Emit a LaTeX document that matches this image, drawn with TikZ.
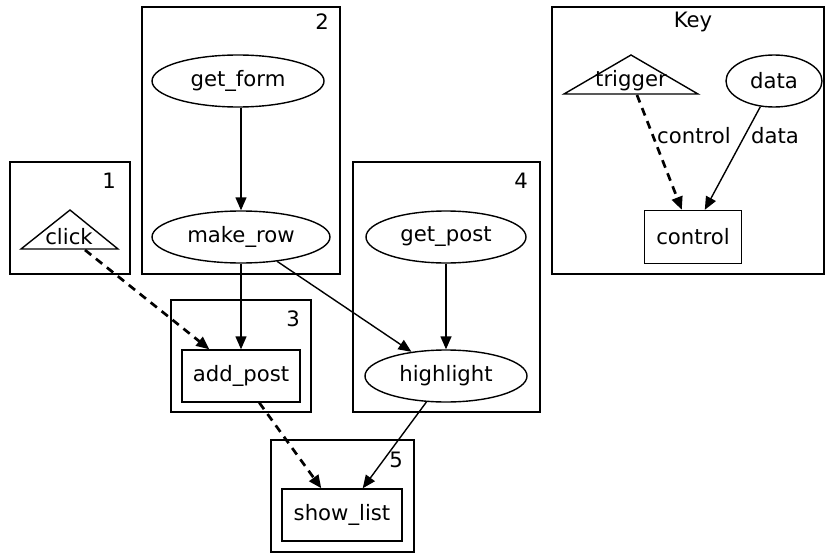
\documentclass[tikz,border=0pt]{standalone}
\usepackage{fontspec}
\setmainfont{DejaVu Sans}
\usetikzlibrary{shapes.geometric,arrows.meta}
\begin{document}
\begin{tikzpicture}[x=1pt,y=-1pt,
  every node/.style={font=\fontsize{21.2}{25}\selectfont, inner sep=0pt},
  cluster/.style={draw, line width=1.4pt},
  ell/.style={draw, ellipse, line width=1.4pt},
  boxn/.style={draw, rectangle, line width=1.4pt},
  tri/.style={line width=1.4pt},
  data/.style={line width=1.4pt, -{Triangle[length=13pt,width=11pt]}},
  ctrl/.style={line width=2.7pt, dash pattern=on 8pt off 6pt, -{Triangle[length=13pt,width=11pt]}},
  clabel/.style={anchor=center}]
\useasboundingbox (0,0) rectangle (825,554);
% clusters
\draw[cluster] (10,162) rectangle (130,274);
\node[clabel] (l1) at (109,181) {1};
\draw[cluster] (142,7) rectangle (340,274);
\node[clabel] (l2) at (322,22) {2};
\draw[cluster] (171,300) rectangle (311,412);
\node[clabel] (l3) at (293,319) {3};
\draw[cluster] (353,162) rectangle (540,412);
\node[clabel] (l4) at (521,181) {4};
\draw[cluster] (271,440) rectangle (414,552);
\node[clabel] (l5) at (396,460) {5};
\draw[cluster] (552,7) rectangle (824,274);
\node[clabel] (lk) at (693,22) {Key};
% triangles
\draw[tri] (21,249) -- (70,210) -- (118,249) -- cycle;
\node (click) at (69,237) {click};
\coordinate (clickout) at (85,250);
\draw[tri] (564,94) -- (631,55) -- (698,94) -- cycle;
\node (trigger) at (631,81) {trigger};
\coordinate (trigout) at (637,95);
% nodes
\node[ell, minimum width=172pt, minimum height=52pt] (getform) at (238,81) {get\_form};
\node[ell, minimum width=178pt, minimum height=52pt] (makerow) at (241,237) {make\_row};
\node[boxn, minimum width=118pt, minimum height=52pt] (addpost) at (241,376) {add\_post};
\node[ell, minimum width=160pt, minimum height=52pt] (getpost) at (446,237) {get\_post};
\node[ell, minimum width=162pt, minimum height=52pt] (highlight) at (446,376) {highlight};
\node[boxn, minimum width=120pt, minimum height=52pt] (showlist) at (342,515) {show\_list};
\node[ell, minimum width=96pt, minimum height=52pt] (data) at (774,81) {data};
\node[boxn, minimum width=97pt, minimum height=53pt] (control) at (693,237) {control};
% edges
\draw[data] (makerow.north |- getform.south) -- (makerow.north);
\draw[data] (makerow.south) -- (addpost.north);
\draw[data] (makerow.-34) -- (highlight.145);
\draw[data] (getpost.south) -- (highlight.north);
\draw[data] (highlight.-127) -- ([xshift=-40pt]showlist.north east);
\draw[ctrl] (clickout) -- ([xshift=28pt]addpost.north west);
\draw[ctrl] ([xshift=78pt]addpost.south west) -- ([xshift=40pt]showlist.north west);
\draw[ctrl] (trigout) -- ([xshift=38pt]control.north west);
\draw[data] (data.-118) -- ([xshift=61pt]control.north west);
\node[anchor=west] (lc) at (657,136) {control};
\node[anchor=west] (ld) at (751,136) {data};
\end{tikzpicture}
\end{document}
